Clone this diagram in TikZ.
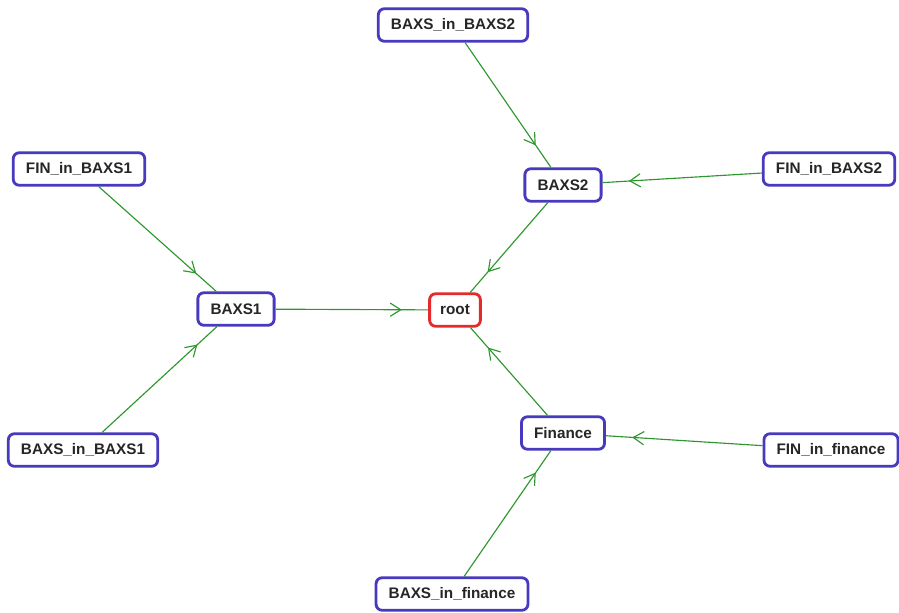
\documentclass[tikz,border=0pt]{standalone}
\usepackage{fontspec}
\setmainfont{Liberation Sans}
\usepackage{tikz}
\usetikzlibrary{arrows.meta,decorations.markings}
\tikzstyle{graphPlane} = [x = 0.02cm, y = -0.02cm]
\definecolor{boxColor}{RGB}{72,58,190}
\definecolor{rootColor}{RGB}{228,42,42}
\definecolor{edgeColor}{RGB}{45,150,45}
\tikzstyle{boxStyle} = [draw=boxColor, fill=white, line width=1.6pt, rounded corners = .12cm, minimum height=18.5pt, inner xsep=7.2pt, font=\bfseries\fontsize{8.7}{10}\selectfont, text=black!85]
\tikzstyle{rootStyle} = [boxStyle, draw=rootColor, inner xsep=6pt]
\tikzstyle{edgeLine} = [color=edgeColor, line width=.65pt, postaction={decorate}, decoration={markings, mark=at position -15pt with {\arrow{Straight Barb[length=6pt, width=7.5pt]}}}]
\newcommand{\flowEdge}[2]{\draw [edgeLine] (#1) -- (#2);}

\begin{document}
\begin{tikzpicture}[graphPlane]
    \useasboundingbox (0,0) rectangle (899,612);
    % nodes
    \node [rootStyle] (root) at (455,310) {root};
    \node [boxStyle] (baxsOne) at (236,309) {BAXS1};
    \node [boxStyle] (baxsTwo) at (563,185) {BAXS2};
    \node [boxStyle] (finance) at (563,433) {Finance};
    \node [boxStyle] (finInBaxsOne) at (79,169) {FIN\_in\_BAXS1};
    \node [boxStyle] (baxsInBaxsOne) at (83,450) {BAXS\_in\_BAXS1};
    \node [boxStyle] (baxsInBaxsTwo) at (453,25) {BAXS\_in\_BAXS2};
    \node [boxStyle] (finInBaxsTwo) at (829,169) {FIN\_in\_BAXS2};
    \node [boxStyle] (finInFinance) at (831,450) {FIN\_in\_finance};
    \node [boxStyle] (baxsInFinance) at (452,594) {BAXS\_in\_finance};
    % edges
    \flowEdge{baxsOne}{root}
    \flowEdge{baxsTwo}{root}
    \flowEdge{finance}{root}
    \flowEdge{finInBaxsOne}{baxsOne}
    \flowEdge{baxsInBaxsOne}{baxsOne}
    \flowEdge{baxsInBaxsTwo}{baxsTwo}
    \flowEdge{finInBaxsTwo}{baxsTwo}
    \flowEdge{finInFinance}{finance}
    \flowEdge{baxsInFinance}{finance}
\end{tikzpicture}
\end{document}
